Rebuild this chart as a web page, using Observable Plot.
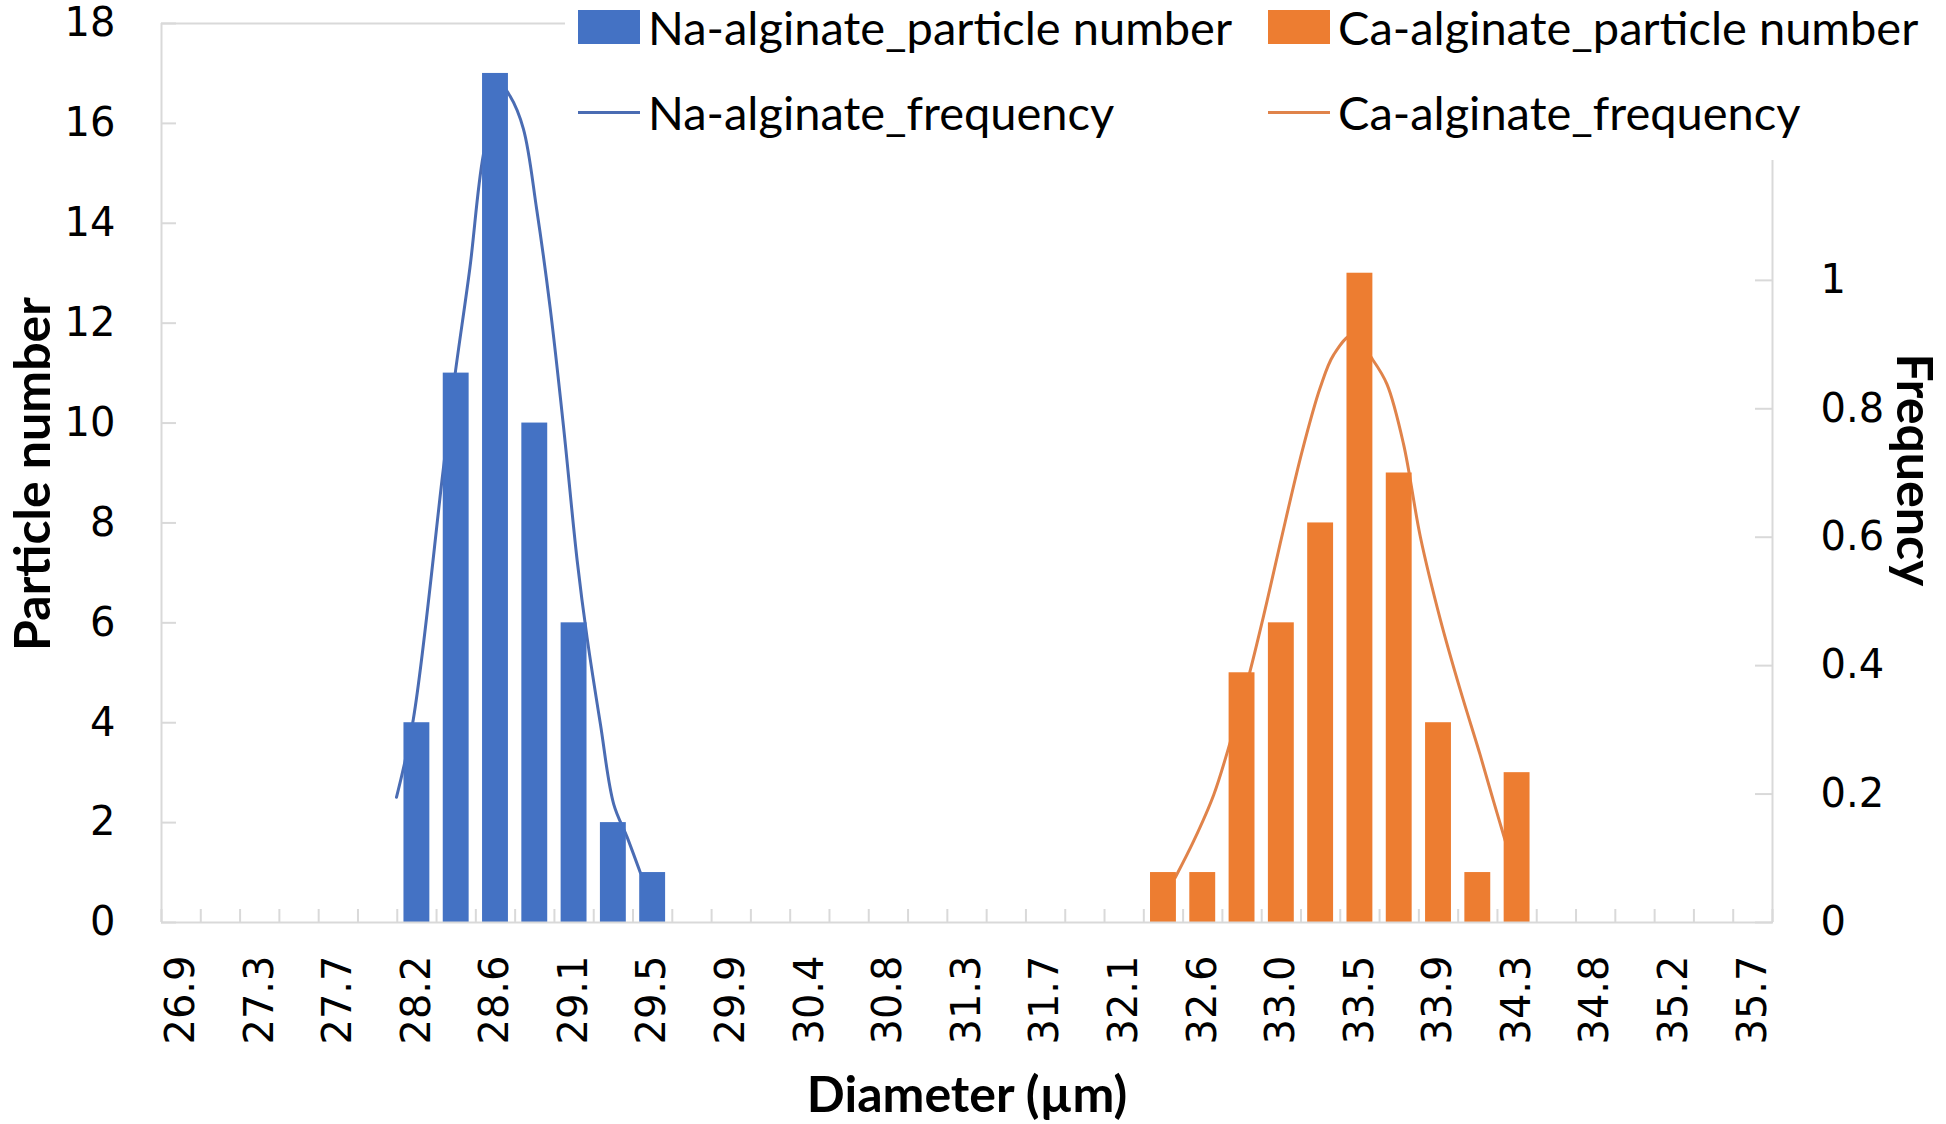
<!DOCTYPE html>
<html>
<head>
<meta charset="utf-8">
<script src="https://cdn.jsdelivr.net/npm/d3@7"></script>
<script src="https://cdn.jsdelivr.net/npm/@observablehq/plot@0.6"></script>
<style>
  html, body { margin: 0; padding: 0; background: #fff; }
  #wrap { position: relative; width: 1946px; height: 1124px; overflow: hidden; background: #fff; }
  #wrap svg { position: absolute; left: 0; top: 0; }
  .title { position: absolute; font-family: Lato, "Noto Sans", sans-serif; font-weight: 700; font-size: 50px; line-height: 1; white-space: nowrap; color: #000; }
  #legend { position: absolute; left: 565px; top: 0; width: 1381px; height: 160px; background: #fff; }
  .lg-item { position: absolute; height: 60px; display: flex; align-items: center; font-family: Lato, "Noto Sans", sans-serif; font-size: 47px; white-space: nowrap; color: #000; }
  .sw-rect { width: 62px; height: 34px; margin-right: 8px; }
  .sw-line { width: 62px; height: 3px; margin-right: 8px; }
</style>
</head>
<body>
<div id="wrap"></div>
<script>
// ---- data ----
// bin index (0..40) along the diameter category axis
const naBins = [6, 7, 8, 9, 10, 11, 12];
const naCounts = [4, 11, 17, 10, 6, 2, 1];
const caBins = [25, 26, 27, 28, 29, 30, 31, 32, 33, 34];
const caCounts = [1, 1, 5, 6, 8, 13, 9, 4, 1, 3];

// frequency curves (bin position, frequency)
const naFreqX = [5.48, 5.91, 6.67, 6.97, 7.35, 7.69, 8.13, 8.37, 8.71, 9.05, 9.39, 9.73, 10.08, 10.33, 10.67, 11.01, 11.35, 11.69];
const naFreq  = [0.195, 0.317, 0.705, 0.853, 1.02, 1.195, 1.304, 1.287, 1.236, 1.11, 0.958, 0.773, 0.563, 0.444, 0.309, 0.184, 0.133, 0.077];
const caFreqX = [25.30, 25.77, 26.28, 26.70, 27.13, 27.55, 27.97, 28.53, 28.99, 29.33, 29.81, 30.33, 30.69, 31.11, 31.54, 32.05, 32.55, 33.06, 33.40, 33.70];
const caFreq  = [0.070, 0.127, 0.199, 0.281, 0.374, 0.478, 0.590, 0.734, 0.833, 0.884, 0.915, 0.876, 0.838, 0.745, 0.600, 0.471, 0.363, 0.261, 0.189, 0.127];

// axis ticks
const xTickBins = [0, 2, 4, 6, 8, 10, 12, 14, 16, 18, 20, 22, 24, 26, 28, 30, 32, 34, 36, 38, 40];
const xTickLabels = ["26.9", "27.3", "27.7", "28.2", "28.6", "29.1", "29.5", "29.9", "30.4", "30.8", "31.3", "31.7", "32.1", "32.6", "33.0", "33.5", "33.9", "34.3", "34.8", "35.2", "35.7"];
const countTicks = [0, 2, 4, 6, 8, 10, 12, 14, 16, 18];
const countTickLabels = ["0", "2", "4", "6", "8", "10", "12", "14", "16", "18"];
const freqTicks = [0, 0.2, 0.4, 0.6, 0.8, 1];
const freqTickLabels = ["0", "0.2", "0.4", "0.6", "0.8", "1"];
const countMax = 18;
const freqMax = 1.4;
const nBins = 41;

const seriesNames = ["Na-alginate_particle number", "Ca-alginate_particle number", "Na-alginate_frequency", "Ca-alginate_frequency"];
const colors = { naBar: "#4472C4", caBar: "#ED7D31", naLine: "#4a6cb3", caLine: "#e0834a" };

// ---- build ----
const K = countMax / freqMax;
const naBarData = naBins.map((b, i) => ({ b, c: naCounts[i] }));
const caBarData = caBins.map((b, i) => ({ b, c: caCounts[i] }));
const naLineData = naFreqX.map((x, i) => ({ x, f: naFreq[i] }));
const caLineData = caFreqX.map((x, i) => ({ x, f: caFreq[i] }));
const boundaries = d3.range(nBins + 1).map(i => i - 0.5);
const freqTickPos = freqTicks.map(f => f * K);
const axisGray = "#d9d9d9";

const chart = Plot.plot({
  width: 1946,
  height: 1124,
  marginLeft: 161,
  marginRight: 174,
  marginTop: 23,
  marginBottom: 202,
  x: { domain: [-0.5, nBins - 0.5], label: null },
  y: { domain: [0, countMax], label: null },
  style: { fontFamily: "'DejaVu Sans', Verdana, sans-serif", fontSize: "40px", color: "#000", background: "transparent" },
  marks: [
    Plot.ruleY([countMax], { stroke: axisGray, strokeWidth: 2 }),
    Plot.ruleX([-0.5], { stroke: axisGray, strokeWidth: 2 }),
    Plot.ruleX([nBins - 0.5], { stroke: axisGray, strokeWidth: 2 }),
    Plot.axisX(boundaries, { tickSize: -13, text: null, stroke: axisGray, strokeWidth: 2, label: null }),
    Plot.axisX(xTickBins, { tickSize: 0, tickPadding: 33, tickRotate: -90, tickFormat: d => xTickLabels[xTickBins.indexOf(d)], fill: "#000", label: null }),
    Plot.axisY(countTicks, { anchor: "left", tickSize: -15, tickPadding: 61, stroke: axisGray, strokeWidth: 2, fill: "#000", label: null,
      tickFormat: d => countTickLabels[countTicks.indexOf(d)] }),
    Plot.axisY(freqTickPos, { anchor: "right", tickSize: -18, tickPadding: 66, stroke: axisGray, strokeWidth: 2, fill: "#000", label: null,
      tickFormat: v => freqTickLabels[freqTickPos.indexOf(v)] }),
    Plot.line(naLineData, { x: "x", y: d => d.f * K, curve: "catmull-rom", stroke: colors.naLine, strokeWidth: 3 }),
    Plot.line(caLineData, { x: "x", y: d => d.f * K, curve: "catmull-rom", stroke: colors.caLine, strokeWidth: 3 }),
    Plot.rectY(naBarData, { x1: d => d.b - 0.5, x2: d => d.b + 0.5, y: "c", insetLeft: 6.7, insetRight: 6.7, fill: colors.naBar }),
    Plot.rectY(caBarData, { x1: d => d.b - 0.5, x2: d => d.b + 0.5, y: "c", insetLeft: 6.7, insetRight: 6.7, fill: colors.caBar }),
    Plot.ruleY([0], { stroke: axisGray, strokeWidth: 2 })
  ]
});

const wrap = document.getElementById("wrap");
wrap.appendChild(chart);

// legend
const legend = document.createElement("div");
legend.id = "legend";
const items = [
  { name: seriesNames[0], kind: "rect", color: colors.naBar, left: 13, top: -3 },
  { name: seriesNames[1], kind: "rect", color: colors.caBar, left: 703, top: -3 },
  { name: seriesNames[2], kind: "line", color: colors.naLine, left: 13, top: 82 },
  { name: seriesNames[3], kind: "line", color: colors.caLine, left: 703, top: 82 }
];
for (const it of items) {
  const el = document.createElement("div");
  el.className = "lg-item";
  el.style.left = it.left + "px";
  el.style.top = it.top + "px";
  const sw = document.createElement("span");
  sw.className = it.kind === "rect" ? "sw-rect" : "sw-line";
  sw.style.background = it.color;
  const tx = document.createElement("span");
  tx.textContent = it.name;
  el.appendChild(sw);
  el.appendChild(tx);
  legend.appendChild(el);
}
wrap.appendChild(legend);

// axis titles
function addTitle(text, cx, cy, rot) {
  const t = document.createElement("div");
  t.className = "title";
  t.textContent = text;
  t.style.left = cx + "px";
  t.style.top = cy + "px";
  t.style.transform = `translate(-50%, -50%) rotate(${rot}deg)`;
  wrap.appendChild(t);
}
addTitle("Particle number", 31, 474, -90);
addTitle("Frequency", 1916, 470, 90);
addTitle("Diameter (µm)", 967, 1093, 0);
</script>
</body>
</html>
